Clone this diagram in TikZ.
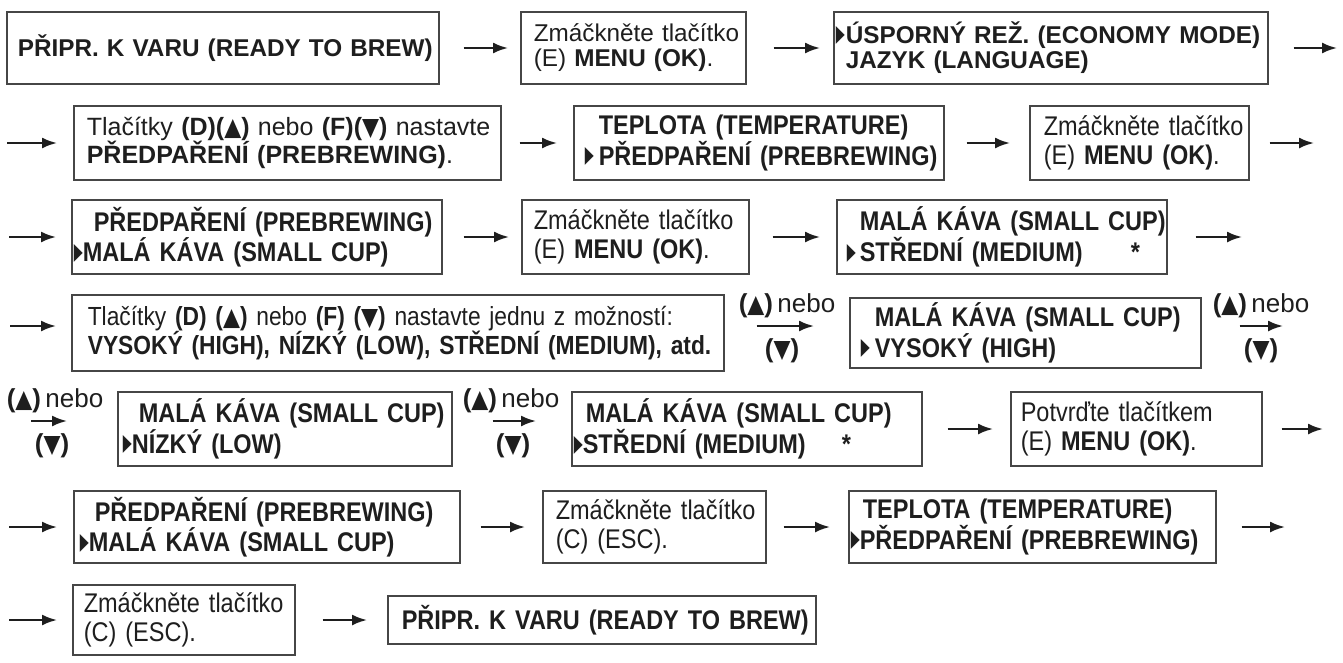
\documentclass[tikz,border=0pt]{standalone}
\usepackage{fontspec}
\setmainfont{Liberation Sans}
\newfontfamily\narrow[FakeStretch=0.87]{Liberation Sans}
\newfontfamily\symfont{DejaVu Sans}
\usepackage{xcolor}
\usepackage{graphicx}
\usepackage{tikz}
\definecolor{ink} {RGB} {30, 30, 30}
\definecolor{frame} {RGB} {70, 70, 70}
\usetikzlibrary{arrows.meta}
\newcommand{\sel}{\raisebox{2.5pt}{\resizebox{9pt}{15pt}{\symfont ▶}}}
\newcommand{\selat}[2]{\makebox[#2][l]{\hspace*{#1}\sel}}
\newcommand{\keyup}{\resizebox{17pt}{16pt}{\symfont ▲}}
\newcommand{\keydown}{\resizebox{17pt}{16pt}{\symfont ▼}}
\tikzstyle{lcd}=[
  draw=frame, line width=1.6pt, anchor=west, align=left, inner xsep=0pt, inner ysep=0pt,
  text=ink, font=\narrow\fontsize{27}{29}\selectfont
]
\tikzstyle{plain}=[font=\fontsize{24.3}{25}\selectfont]
\tikzstyle{flow}=[-{Latex[length=15pt,width=11pt]}, line width=2.2pt, draw=ink]
\tikzstyle{keylab}=[text=ink, inner sep=0pt, anchor=base, font=\fontsize{26}{28}\selectfont]

\begin{document}
\begin{tikzpicture}[x=1pt,y=-1pt]
  \useasboundingbox (0,0) rectangle (1343,662);

  % row 1
  \node[lcd, plain, text width=432pt, minimum height=72pt] (ready) at (6,48)
    {\hspace*{11pt}\bfseries PŘIPR. K VARU (READY TO BREW)};
  \node[lcd, plain, text width=225pt, minimum height=72pt] (menu1) at (520,48)
    {\hspace*{13pt}Zmáčkněte tlačítko\\ \hspace*{13pt}(E) \textbf{MENU (OK)}.};
  \node[lcd, plain, text width=434pt, minimum height=72pt] (economy) at (833,48)
    {\selat{2pt}{12pt}\bfseries ÚSPORNÝ REŽ. (ECONOMY MODE)\\ \hspace*{12pt}JAZYK (LANGUAGE)};
  \coordinate (out1) at (1337,48);
  \draw[flow, shorten <=24pt, shorten >=12pt] (ready) -- (menu1);
  \draw[flow, shorten <=27pt, shorten >=13pt] (menu1) -- (economy);
  \draw[flow, shorten <=25pt] (economy) -- (out1);

  % row 2
  \coordinate (in2) at (7,143);
  \node[lcd, plain, text width=427pt, minimum height=74pt, font=\fontsize{25}{25}\selectfont] (setpre) at (73,143)
    {\hspace*{13pt}Tlačítky \textbf{(D)(\keyup)} nebo \textbf{(F)(\keydown)} nastavte\\
     \hspace*{13pt}\textbf{PŘEDPAŘENÍ (PREBREWING)}.};
  \node[lcd, text width=370pt, minimum height=74pt] (temp1) at (573,143)
    {\hspace*{25pt}\bfseries TEPLOTA (TEMPERATURE)\\ \selat{11pt}{25pt}PŘEDPAŘENÍ (PREBREWING)};
  \node[lcd, text width=219pt, minimum height=74pt] (menu2) at (1029,143)
    {\hspace*{14pt}Zmáčkněte tlačítko\\ \hspace*{14pt}(E) \textbf{MENU (OK)}.};
  \coordinate (out2) at (1314,143);
  \draw[flow, shorten >=16pt] (in2) -- (setpre);
  \draw[flow, shorten <=18pt, shorten >=16pt] (setpre) -- (temp1);
  \draw[flow, shorten <=22pt, shorten >=19pt] (temp1) -- (menu2);
  \draw[flow, shorten <=20pt] (menu2) -- (out2);

  % row 3
  \coordinate (in3) at (9,237);
  \node[lcd, text width=370pt, minimum height=74pt] (pre1) at (71,237)
    {\hspace*{22pt}\bfseries PŘEDPAŘENÍ (PREBREWING)\\ \selat{2pt}{11pt}MALÁ KÁVA (SMALL CUP)};
  \node[lcd, text width=227pt, minimum height=74pt] (menu3) at (521,237)
    {\hspace*{12pt}Zmáčkněte tlačítko\\ \hspace*{12pt}(E) \textbf{MENU (OK)}.};
  \node[lcd, text width=330pt, minimum height=74pt] (cup1) at (836,237)
    {\hspace*{23pt}\bfseries MALÁ KÁVA (SMALL CUP)\\ \selat{10pt}{23pt}STŘEDNÍ (MEDIUM)\hspace{48pt}*};
  \coordinate (out3) at (1242,237);
  \draw[flow, shorten >=15pt] (in3) -- (pre1);
  \draw[flow, shorten <=21pt, shorten >=12pt] (pre1) -- (menu3);
  \draw[flow, shorten <=23pt, shorten >=16pt] (menu3) -- (cup1);
  \draw[flow, shorten <=28pt] (cup1) -- (out3);

  % row 4
  \coordinate (in4) at (10,326);
  \node[lcd, text width=652pt, minimum height=76pt, font=\narrow\fontsize{26.2}{29}\selectfont] (choice) at (71,333)
    {\hspace*{16pt}Tlačítky \textbf{(D)} \textbf{(\keyup)} nebo \textbf{(F)} \textbf{(\keydown)} nastavte jednu z možností:\\
     \hspace*{16pt}\mbox{\textbf{VYSOKÝ (HIGH), NÍZKÝ (LOW), STŘEDNÍ (MEDIUM), atd.}}};
  \node[lcd, text width=351pt, minimum height=70pt] (high) at (849,333)
    {\hspace*{25pt}\bfseries MALÁ KÁVA (SMALL CUP)\\ \selat{11pt}{25pt}VYSOKÝ (HIGH)};
  \coordinate (out4) at (1283,326);
  \draw[flow, shorten >=15pt] (in4) -- (in4 -| choice.west);
  \draw[flow, shorten <=32pt, shorten >=35pt] ([yshift=7pt]choice.east) -- ([yshift=7pt]high.west);
  \draw[flow, shorten <=38pt] ([yshift=7pt]high.east) -- (out4);
  \node[keylab] (up1) at (787,312) {\textbf{(\keyup)}\,nebo};
  \node[keylab] (down1) at (782,357) {\textbf{(\keydown)}};
  \node[keylab] (up2) at (1261,312) {\textbf{(\keyup)}\,nebo};
  \node[keylab] (down2) at (1261,357) {\textbf{(\keydown)}};

  % row 5
  \coordinate (in5) at (31,421);
  \node[lcd, text width=334pt, minimum height=74pt] (low) at (117,429)
    {\hspace*{21pt}\bfseries MALÁ KÁVA (SMALL CUP)\\ \selat{5pt}{14pt}NÍZKÝ (LOW)};
  \node[lcd, text width=350pt, minimum height=74pt] (medium) at (571,429)
    {\hspace*{14pt}\bfseries MALÁ KÁVA (SMALL CUP)\\ \selat{2pt}{11pt}STŘEDNÍ (MEDIUM)\hspace{36pt}*};
  \node[lcd, text width=251pt, minimum height=74pt] (confirm) at (1010,429)
    {\hspace*{10pt}Potvrďte tlačítkem\\ \hspace*{10pt}(E) \textbf{MENU (OK)}.};
  \coordinate (out5) at (1323,429);
  \draw[flow, shorten >=50pt] (in5) -- (in5 -| low.west);
  \draw[flow, shorten <=40pt, shorten >=35pt] ([yshift=8pt]low.east) -- ([yshift=8pt]medium.west);
  \draw[flow, shorten <=25pt, shorten >=17pt] (medium) -- (confirm);
  \draw[flow, shorten <=19pt] (confirm) -- (out5);
  \node[keylab] (up3) at (55,407) {\textbf{(\keyup)}\,nebo};
  \node[keylab] (down3) at (52,452) {\textbf{(\keydown)}};
  \node[keylab] (up4) at (511,407) {\textbf{(\keyup)}\,nebo};
  \node[keylab] (down4) at (513,452) {\textbf{(\keydown)}};

  % row 6
  \coordinate (in6) at (9,527);
  \node[lcd, text width=386pt, minimum height=72pt] (pre2) at (73,527)
    {\hspace*{21pt}\bfseries PŘEDPAŘENÍ (PREBREWING)\\ \selat{6pt}{15pt}MALÁ KÁVA (SMALL CUP)};
  \node[lcd, text width=223pt, minimum height=72pt] (esc1) at (542,527)
    {\hspace*{13pt}Zmáčkněte tlačítko\\ \hspace*{13pt}(C) (ESC).};
  \node[lcd, text width=367pt, minimum height=72pt] (temp2) at (848,527)
    {\hspace*{14pt}\bfseries TEPLOTA (TEMPERATURE)\\ \selat{2pt}{11pt}PŘEDPAŘENÍ (PREBREWING)};
  \coordinate (out6) at (1285,527);
  \draw[flow, shorten >=16pt] (in6) -- (pre2);
  \draw[flow, shorten <=20pt, shorten >=17pt] (pre2) -- (esc1);
  \draw[flow, shorten <=17pt, shorten >=18pt] (esc1) -- (temp2);
  \draw[flow, shorten <=25pt] (temp2) -- (out6);

  % row 7
  \coordinate (in7) at (9,620);
  \node[lcd, text width=222pt, minimum height=70pt] (esc2) at (72,620)
    {\hspace*{11pt}Zmáčkněte tlačítko\\ \hspace*{11pt}(C) (ESC).};
  \node[lcd, text width=428pt, minimum height=48pt] (ready2) at (387,620)
    {\hspace*{14pt}\bfseries PŘIPR. K VARU (READY TO BREW)};
  \draw[flow, shorten >=15pt] (in7) -- (esc2);
  \draw[flow, shorten <=27pt, shorten >=20pt] (esc2) -- (ready2);
\end{tikzpicture}
\end{document}
